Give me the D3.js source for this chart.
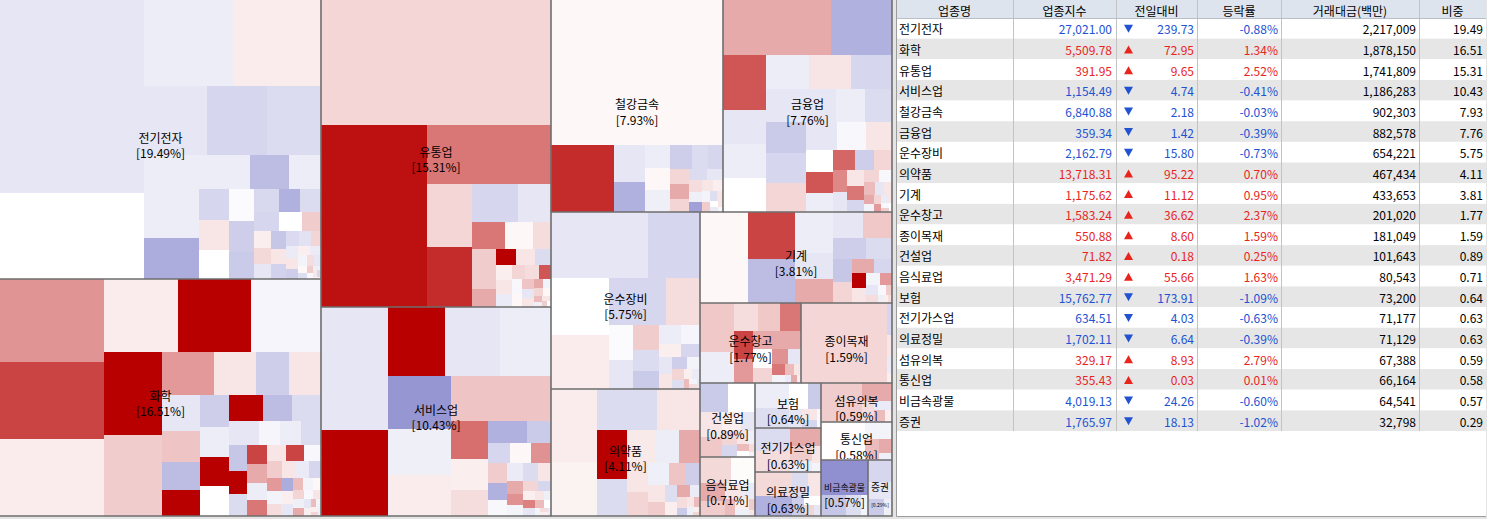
<!DOCTYPE html>
<html>
<head>
<meta charset="utf-8">
<script src="https://cdn.jsdelivr.net/npm/d3@7"></script>
<style>
  html, body { margin: 0; padding: 0; background: #e4e4e4; overflow: hidden; }
  svg { display: block; }
  text { font-family: "Noto Sans CJK KR", "Noto Sans", sans-serif; }
</style>
</head>
<body>
<svg id="chart" width="1487" height="519"></svg>
<script>
// ---- Sector summary table ----
const sectors = ["전기전자","화학","유통업","서비스업","철강금속","금융업","운수장비","의약품","기계","운수창고",
                 "종이목재","건설업","음식료업","보험","전기가스업","의료정밀","섬유의복","통신업","비금속광물","증권"];
const indexLevels = [27021.00, 5509.78, 391.95, 1154.49, 6840.88, 359.34, 2162.79, 13718.31, 1175.62, 1583.24,
                     550.88, 71.82, 3471.29, 15762.77, 634.51, 1702.11, 329.17, 355.43, 4019.13, 1765.97];
const pointChanges = [-239.73, 72.95, 9.65, -4.74, -2.18, -1.42, -15.80, 95.22, 11.12, 36.62,
                      8.60, 0.18, 55.66, -173.91, -4.03, -6.64, 8.93, 0.03, -24.26, -18.13];
const pctChanges = [-0.88, 1.34, 2.52, -0.41, -0.03, -0.39, -0.73, 0.70, 0.95, 2.37,
                    1.59, 0.25, 1.63, -1.09, -0.63, -0.39, 2.79, 0.01, -0.60, -1.02];
const tradeValues = [2217009, 1878150, 1741809, 1186283, 902303, 882578, 654221, 467434, 433653, 201020,
                     181049, 101643, 80543, 73200, 71177, 71129, 67388, 66164, 64541, 32798];
const weights = [19.49, 16.51, 15.31, 10.43, 7.93, 7.76, 5.75, 4.11, 3.81, 1.77,
                 1.59, 0.89, 0.71, 0.64, 0.63, 0.63, 0.59, 0.58, 0.57, 0.29];
const headers = ["업종명","업종지수","전일대비","등락률","거래대금(백만)","비중"];

// ---- Constituents per sector: [relative size, daily change %] ----
const cellsElectronics = [[27456,-0.6],[12298,0],[7568,-0.44],[7560,0.22],[4284,-0.6],[4012,-1.0],[3672,-0.85],
  [2310,-0.44],[2255,-0.44],[2250,-2.0],[1700,-0.44],[1326,-1.6],[1088,-0.44],[899,-1.0],[870,0.3],[841,0],
  [800,-0.1],[775,-1.2],[675,-1.3],[560,-0.95],[483,-1.9],[480,-0.85],[470,-1.0],[420,0],[364,0.6],[300,0.2],
  [280,0.45],[260,-0.6],[250,-1.4],[220,0.3],[215,-1.1],[200,-0.9],[180,-0.7],[150,0.5],[145,-0.5],[140,0.3],
  [130,-1.2],[110,0.2],[100,-0.5],[90,-0.3],[80,0.4],[70,-0.6],[60,0.1],[50,-0.8],[45,0.6],[40,-0.2],[35,-0.4],
  [30,0.3],[25,-1.0],[20,0.2]];
const cellsChemicals = [[8549,1.26],[8034,2.2],[7931,0.22],[5402,0.22],[5256,3.2],[5110,-0.24],[4872,3.2],[4698,0.6],
  [2240,1.2],[1820,0.3],[1470,-1.2],[1380,0.3],[1350,-0.6],[1170,0.7],[1020,-1.6],[990,3.2],[930,-1.2],[900,-0.44],
  [884,3.2],[880,0],[860,3.2],[760,-1.6],[740,-0.85],[700,-0.6],[520,-0.24],[500,-0.44],[480,-0.85],[460,-1.4],
  [420,3.2],[400,-0.85],[380,2.2],[360,1.0],[340,-0.44],[320,1.6],[300,0.3],[280,2.2],[260,-0.2],[250,0.6],
  [240,0.3],[220,-0.5],[200,-1.0],[190,1.2],[180,-0.3],[170,0.4],[160,-2.0],[150,0.2],[140,-0.6],[130,0.8],
  [120,-0.3],[110,0.1],[100,0.5],[95,-0.4],[90,1.0],[80,-0.2],[70,0.3],[60,-0.6],[50,0.2],[45,0.8],[40,-0.3],
  [35,0.2],[30,0.5],[25,-0.4]];
const cellsRetail = [[28875,0.48],[19367,2.8],[7400,1.6],[2835,0.48],[2700,2.5],[1728,-1.0],[1215,-0.6],[918,1.6],
  [800,0.1],[500,0.4],[480,0.6],[460,0.6],[440,1.0],[320,3.2],[300,0.3],[260,-0.85],[240,0.2],[220,0.3],[200,-0.5],
  [180,0.5],[180,0.4],[160,2.0],[156,-0.2],[140,0.1],[120,0.7],[110,-0.6],[100,0.3],[90,1.0],[80,-0.3],[70,0.5],
  [60,0.1],[50,0.8],[45,-0.4],[40,0.3],[30,0.6],[25,0]];
const cellsServices = [[8308,-0.6],[5762,3.2],[3900,3.2],[3880,-0.6],[3500,-0.44],[3285,-2.56],[2880,-0.4],
  [2580,0.22],[2537,0.7],[1890,0.7],[1400,1.7],[1150,0.2],[950,0.4],[860,-1.9],[520,-1.3],[450,-1.0],[420,0.1],
  [400,1.3],[380,0.6],[340,-1.9],[300,-0.2],[280,-0.5],[250,-0.85],[230,0.3],[210,1.0],[190,1.3],[170,-0.3],
  [150,0.5],[130,-1.0],[110,0.2],[100,1.5],[90,-0.6],[80,0.3],[70,-0.4],[60,0.8],[50,0],[40,-0.3],[35,0.4],
  [30,0.2],[25,-0.5]];
const cellsSteel = [[24768,0.1],[4158,2.5],[1147,-0.6],[899,-1.9],[575,-0.44],[550,0.1],[525,-0.4],[510,-1.2],
  [400,-0.85],[350,-1.0],[285,0.48],[270,1.0],[240,0.5],[200,-0.85],[180,-0.6],[150,0.4],[130,-0.4],[120,-2.3],
  [118,0.3],[100,0.2],[90,-0.3],[80,0.6],[70,-0.8],[60,0.3],[50,0],[40,-0.5],[30,0.3],[25,-0.2]];
const cellsFinance = [[5995,1.0],[3355,-1.9],[2346,2.0],[1470,-0.6],[1462,-0.44],[1460,0],[1428,-0.44],[1420,0.32],
  [1386,-1.0],[1300,-0.6],[1250,-1.3],[1200,-1.0],[1150,0.48],[1000,-0.6],[950,-0.44],[900,-0.85],[850,-0.6],
  [800,-0.2],[700,0.3],[600,0],[550,2.0],[500,-0.44],[450,1.8],[400,-1.2],[360,0.48],[320,1.4],[290,-0.6],
  [260,0.3],[230,1.6],[200,-1.0],[180,0.5],[160,-0.2],[140,0.8],[120,-0.6],[100,0.3],[90,1.0],[80,-0.3],
  [70,0.5],[60,1.2],[50,-0.5],[40,0.3],[35,-0.2],[30,0.6],[25,0]];
const cellsTransportEquip = [[6695,-0.6],[3572,-1.0],[3478,0],[3243,0.22],[2867,-1.0],[1664,0.4],[900,-0.1],
  [750,-0.6],[650,0.6],[550,-0.85],[480,-1.3],[420,-0.44],[370,-0.24],[320,0.2],[280,-1.0],[240,-0.6],[210,0.3],
  [180,-1.2],[150,-0.3],[130,0.5],[110,-0.8],[90,0.2],[75,-0.5],[60,0.8],[50,-0.3],[40,0.4],[30,-0.6]];
const cellsPharma = [[3600,0.22],[2700,0.15],[2600,-0.85],[1900,0.3],[1500,3.2],[1150,-0.85],[1000,0.25],[800,-0.44],
  [700,1.0],[650,0.3],[550,0.5],[500,-0.4],[400,0.7],[350,-1.2],[300,0.3],[260,0.6],[220,-0.8],[190,0.2],
  [160,1.0],[130,-0.5],[110,0.4],[90,-1.3],[75,0.3],[60,0.8],[50,-0.4],[40,0.2],[30,0.5]];
const cellsMachinery = [[4459,0.1],[2256,2.2],[2112,-1.6],[1595,-0.44],[1000,-0.6],[924,1.0],[800,-0.6],[790,0.65],
  [700,-1.2],[550,-0.85],[450,-1.4],[400,0.5],[300,1.0],[250,-1.0],[208,3.2],[200,0.3],[180,-0.3],[150,1.2],
  [120,-0.6],[100,0.4],[80,-0.2],[60,0.6],[50,-0.4],[40,0.2],[30,0.4]];
const cellsLogistics = [[1722,0.65],[1100,-0.44],[700,0.4],[650,0.65],[600,1.6],[550,2.2],[500,1.2],[480,1.0],
  [400,1.0],[350,0],[300,0.5],[250,1.3],[200,-0.6],[150,1.6],[120,-0.3],[100,0.8],[80,0.3],[60,-0.5],[50,1.0],[40,0.2]];
const cellsPaper = [[6900,0.48],[150,-1.0],[100,0.3],[80,-0.5],[50,0.2]];
const cellsConstruction = [[900,-1.3],[850,0],[600,0.3],[500,0.65],[400,0.2],[300,-0.6],[250,0.5],[200,-1.0],
  [150,0.3],[120,-0.4],[100,0.8],[80,0],[60,0.4],[40,-0.3]];
const cellsFood = [[900,0.45],[700,0.05],[500,1.0],[400,0.6],[300,0.3],[250,-0.5],[200,0.8],[150,0.2],[100,-0.4],
  [80,0.6],[50,0.3]];
const cellsInsurance = [[1000,-0.44],[800,-0.8],[600,0],[400,-1.3],[300,-0.6],[200,0.3],[150,-1.0],[100,-0.2]];
const cellsUtilities = [[1000,-0.85],[900,0.4],[700,1.0],[400,0.6],[300,-0.5],[200,0.3],[100,-0.3]];
const cellsMedical = [[1100,0.45],[900,-1.9],[500,-0.85],[400,0.3],[300,-1.2],[200,0],[150,0.5],[100,-0.6]];
const cellsTextile = [[1800,0.6],[600,1.0],[300,0.4],[200,-0.5],[150,0.8],[100,0.2]];
const cellsTelecom = [[1800,0.02],[500,-0.3],[300,0.8],[200,1.0],[100,-0.4]];
const cellsMinerals = [[1600,-2.7],[500,-1.4],[300,-0.8],[150,-0.3]];
const cellsSecurities = [[400,-1.0],[300,-0.6],[200,-1.3],[100,-0.4]];

const sectorCells = [cellsElectronics, cellsChemicals, cellsRetail, cellsServices, cellsSteel, cellsFinance,
  cellsTransportEquip, cellsPharma, cellsMachinery, cellsLogistics, cellsPaper, cellsConstruction, cellsFood,
  cellsInsurance, cellsUtilities, cellsMedical, cellsTextile, cellsTelecom, cellsMinerals, cellsSecurities];

// ---- Layout ----
const W = 1487, H = 519;
const mapW = 892, mapH = 516;
const svg = d3.select("#chart");
svg.append("rect").attr("width", W).attr("height", H).attr("fill", "#e4e4e4");

const colour = d3.scaleLinear().domain([-3, 0, 3])
  .range(["#8484cc", "#ffffff", "#b80000"]).clamp(true);

// Each sector's area follows its weight; constituents split it in proportion to their size.
const treeData = {
  children: sectors.map((name, i) => {
    const cells = sectorCells[i];
    const total = d3.sum(cells, c => c[0]);
    return {
      name, rank: i, weight: weights[i],
      children: cells.map((c, j) => ({ rank: j, size: c[0] / total * weights[i], chg: c[1] }))
    };
  })
};

const root = d3.hierarchy(treeData)
  .sum(d => d.size || 0)
  .sort((a, b) => {
    const dv = b.value - a.value;
    return Math.abs(dv) > 1e-9 ? dv : a.data.rank - b.data.rank;
  });

d3.treemap().size([mapW, mapH]).tile(d3.treemapSquarify.ratio(1)).round(true)(root);

const map = svg.append("g");
map.append("rect").attr("width", mapW).attr("height", mapH).attr("fill", "#ffffff");

map.selectAll("rect.cell")
  .data(root.leaves())
  .join("rect")
  .attr("class", "cell")
  .attr("x", d => d.x0).attr("y", d => d.y0)
  .attr("width", d => Math.max(0, d.x1 - d.x0))
  .attr("height", d => Math.max(0, d.y1 - d.y0))
  .attr("fill", d => colour(d.data.chg))
  .attr("shape-rendering", "crispEdges");

// sector dividers: right and bottom edge of every sector
map.selectAll("path.sector")
  .data(root.children)
  .join("path")
  .attr("class", "sector")
  .attr("d", d => `M${d.x0},${d.y1}H${d.x1}V${d.y0}`)
  .attr("fill", "none")
  .attr("stroke", "#6e6e6e")
  .attr("stroke-width", 1.6);

const defs = svg.append("defs");
root.children.forEach((d, i) => {
  defs.append("clipPath").attr("id", "clip" + i)
    .append("rect")
    .attr("x", d.x0 + 1).attr("y", d.y0 + 1)
    .attr("width", Math.max(0, d.x1 - d.x0 - 2))
    .attr("height", Math.max(0, d.y1 - d.y0 - 2));
});

const labels = map.selectAll("g.label")
  .data(root.children)
  .join("g")
  .attr("class", "label")
  .attr("clip-path", (d, i) => `url(#clip${i})`);

const nameText = labels.append("text")
  .attr("x", d => (d.x0 + d.x1) / 2)
  .attr("y", d => (d.y0 + d.y1) / 2 + 3)
  .attr("text-anchor", "middle")
  .attr("font-size", 12)
  .attr("fill", "#000")
  .text(d => d.data.name);

const pctText = labels.append("text")
  .attr("x", d => (d.x0 + d.x1) / 2)
  .attr("y", d => (d.y0 + d.y1) / 2 + 18.5)
  .attr("text-anchor", "middle")
  .attr("font-family", "'Liberation Sans', Arial, sans-serif")
  .attr("font-size", 12)
  .attr("fill", "#000")
  .text(d => `[${d.data.weight.toFixed(2)}%]`);

// shrink labels that are wider than their sector
[nameText, pctText].forEach(sel => sel.each(function(d) {
  const room = d.x1 - d.x0 - 6;
  const len = this.getComputedTextLength();
  if (len > room) d3.select(this).attr("font-size", Math.floor(12 * room / len * 10) / 10);
}));

// ---- Table ----
const colEdges = [896, 1013, 1116, 1197, 1281, 1419, 1486];
const headerH = 18;
const rowH = (431 - headerH) / sectors.length;
const tableBottom = headerH + rowH * sectors.length;
const upColour = "#e8241c", downColour = "#2152d2";

const table = svg.append("g").attr("font-size", 12);

table.append("rect")
  .attr("x", colEdges[0]).attr("y", 0)
  .attr("width", colEdges[6] - colEdges[0]).attr("height", 516)
  .attr("fill", "#ffffff");

table.append("rect")
  .attr("x", colEdges[0]).attr("y", 0)
  .attr("width", colEdges[6] - colEdges[0]).attr("height", headerH)
  .attr("fill", "#dde4ee");

table.selectAll("rect.row")
  .data(sectors)
  .join("rect")
  .attr("class", "row")
  .attr("x", colEdges[0]).attr("y", (d, i) => headerH + i * rowH)
  .attr("width", colEdges[6] - colEdges[0]).attr("height", rowH)
  .attr("fill", (d, i) => i % 2 ? "#e6e6e6" : "#ffffff");

// column separators
table.selectAll("line.col")
  .data(colEdges.slice(1, 6))
  .join("line")
  .attr("class", "col")
  .attr("x1", d => d + 0.5).attr("x2", d => d + 0.5)
  .attr("y1", 0).attr("y2", tableBottom)
  .attr("stroke", "#c3c3c3");

table.append("line")
  .attr("x1", colEdges[0]).attr("x2", colEdges[6])
  .attr("y1", headerH + 0.5).attr("y2", headerH + 0.5)
  .attr("stroke", "#b9bfc9");

// outer frame
table.append("path")
  .attr("d", `M${colEdges[0] + 0.5},0V${516.5}H${colEdges[6]}`)
  .attr("fill", "none").attr("stroke", "#9c9c9c");

table.selectAll("text.head")
  .data(headers)
  .join("text")
  .attr("class", "head")
  .attr("x", (d, i) => (colEdges[i] + colEdges[i + 1]) / 2)
  .attr("y", headerH / 2 + 1)
  .attr("text-anchor", "middle")
  .attr("dominant-baseline", "central")
  .attr("fill", "#000")
  .text(d => d);

const fmtIndex = d3.format(",.2f");
const fmtTrade = d3.format(",");
const rowY = i => headerH + i * rowH + rowH / 2 + 0.5;
const dirColour = i => pctChanges[i] >= 0 ? upColour : downColour;

const rows = table.selectAll("g.rowtext")
  .data(sectors)
  .join("g")
  .attr("class", "rowtext")
  .attr("transform", (d, i) => `translate(0,${rowY(i)})`)
  .attr("dominant-baseline", "central");

rows.append("text").attr("x", colEdges[0] + 3).attr("fill", "#000").text(d => d);
rows.append("text").attr("x", colEdges[2] - 4).attr("text-anchor", "end")
  .attr("fill", (d, i) => dirColour(i)).text((d, i) => fmtIndex(indexLevels[i]));
rows.append("path")
  .attr("d", (d, i) => pointChanges[i] >= 0
    ? `M${colEdges[2] + 8},4H${colEdges[2] + 17}L${colEdges[2] + 12.5},-4Z`
    : `M${colEdges[2] + 8},-4H${colEdges[2] + 17}L${colEdges[2] + 12.5},4Z`)
  .attr("fill", (d, i) => pointChanges[i] >= 0 ? upColour : downColour);
rows.append("text").attr("x", colEdges[3] - 3).attr("text-anchor", "end")
  .attr("fill", (d, i) => dirColour(i)).text((d, i) => fmtIndex(Math.abs(pointChanges[i])));
rows.append("text").attr("x", colEdges[4] - 3).attr("text-anchor", "end")
  .attr("fill", (d, i) => dirColour(i)).text((d, i) => pctChanges[i].toFixed(2) + "%");
rows.append("text").attr("x", colEdges[5] - 3).attr("text-anchor", "end")
  .attr("fill", "#000").text((d, i) => fmtTrade(tradeValues[i]));
rows.append("text").attr("x", colEdges[6] - 3).attr("text-anchor", "end")
  .attr("fill", "#000").text((d, i) => weights[i].toFixed(2));
</script>
</body>
</html>
